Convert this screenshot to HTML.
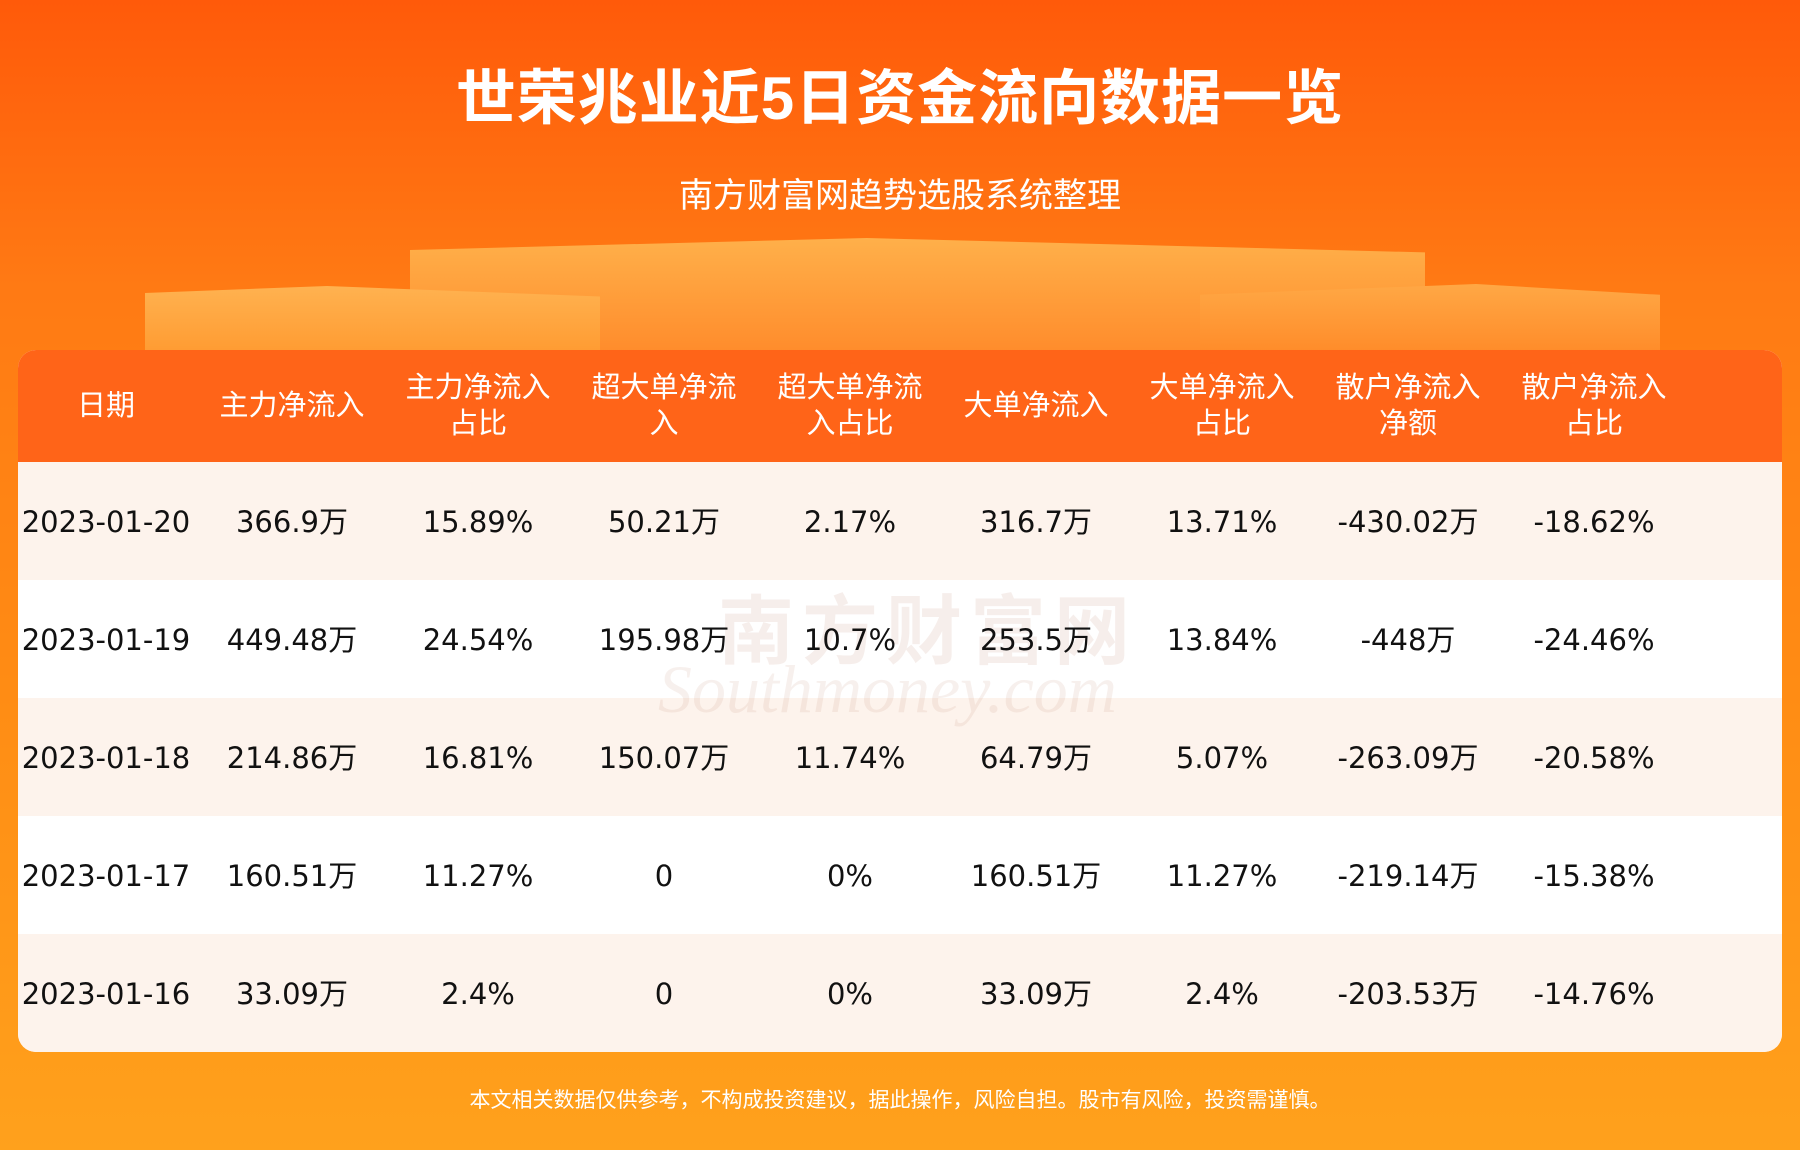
<!DOCTYPE html>
<html><head><meta charset="utf-8"><style>
body{margin:0;width:1800px;height:1150px;overflow:hidden;font-family:"Liberation Sans","Noto Sans CJK SC",sans-serif;}
#bg{position:absolute;left:0;top:0;width:1800px;height:1150px;background:linear-gradient(180deg,#ff5a0a 0%,#ff7a14 25%,#ff8c14 60%,#ffa11c 100%);}
.blk{position:absolute;}
#title{position:absolute;top:50px;width:1800px;text-align:center;color:#fff;font-size:60px;font-weight:bold;letter-spacing:1px;}
#sub{position:absolute;top:168px;width:1800px;text-align:center;color:#fff;font-size:34px;}
#tbl{position:absolute;left:18px;top:350px;width:1764px;height:702px;border-radius:18px;overflow:hidden;background:#fff;}
#hd{position:absolute;left:0;top:0;width:100%;height:112px;background:#ff6418;}
.row{position:absolute;left:0;width:100%;height:118px;}
.c{position:absolute;width:186px;text-align:center;transform:translateX(-93px);}
.h{color:#fff;font-size:29px;line-height:36px;}
.d{font-family:"DejaVu Sans","Noto Sans CJK SC",sans-serif;font-size:29px;line-height:36px;height:36px;color:#111;top:42px;}
.d span{display:inline-block;vertical-align:top;line-height:36px;height:36px;}
#ft{position:absolute;top:1084px;width:1800px;text-align:center;color:#fff;font-size:21px;}
#wm{position:absolute;left:700px;top:220px;font-size:76px;color:rgba(200,150,130,0.16);font-weight:bold;letter-spacing:8px;}
#wm2{position:absolute;left:640px;top:300px;font-size:68px;color:rgba(200,150,130,0.14);font-style:italic;font-family:"Liberation Serif",serif;}
</style></head><body>
<div id="bg"></div>
<div class="blk" style="left:410px;top:238px;width:1015px;height:120px;background:linear-gradient(180deg,#ffb04a,#ff8a2a);clip-path:polygon(0 10%,45% 0,100% 12%,100% 100%,0 100%);"></div>
<div class="blk" style="left:145px;top:286px;width:455px;height:70px;background:linear-gradient(180deg,#ffb250,#ff9a30);clip-path:polygon(0 10%,40% 0,100% 15%,100% 100%,0 100%);"></div>
<div class="blk" style="left:1200px;top:284px;width:460px;height:72px;background:linear-gradient(180deg,#ffa845,#ff8a28);clip-path:polygon(0 15%,60% 0,100% 15%,100% 100%,0 100%);"></div>
<div id="title">世荣兆业近5日资金流向数据一览</div>
<div id="sub">南方财富网趋势选股系统整理</div>
<div id="tbl">
<div id="hd"></div>
<div class="row" style="top:112px;background:#fdf3ec"></div>
<div class="row" style="top:230px;background:#fff"></div>
<div class="row" style="top:348px;background:#fdf3ec"></div>
<div class="row" style="top:466px;background:#fff"></div>
<div class="row" style="top:584px;background:#fdf3ec"></div>
<div id="wm">南方财富网</div>
<div id="wm2">Southmoney.com</div>
<div class="c h" style="left:88px;top:38px">日期</div>
<div class="c h" style="left:274px;top:38px">主力净流入</div>
<div class="c h" style="left:460px;top:20px">主力净流入<br>占比</div>
<div class="c h" style="left:646px;top:20px">超大单净流<br>入</div>
<div class="c h" style="left:832px;top:20px">超大单净流<br>入占比</div>
<div class="c h" style="left:1018px;top:38px">大单净流入</div>
<div class="c h" style="left:1204px;top:20px">大单净流入<br>占比</div>
<div class="c h" style="left:1390px;top:20px">散户净流入<br>净额</div>
<div class="c h" style="left:1576px;top:20px">散户净流入<br>占比</div>
<div class="row" style="top:112px">
<div class="c d" style="left:88px">2023-01-20</div><div class="c d" style="left:274px">366.9<span>万</span></div><div class="c d" style="left:460px">15.89%</div><div class="c d" style="left:646px">50.21<span>万</span></div><div class="c d" style="left:832px">2.17%</div><div class="c d" style="left:1018px">316.7<span>万</span></div><div class="c d" style="left:1204px">13.71%</div><div class="c d" style="left:1390px">-430.02<span>万</span></div><div class="c d" style="left:1576px">-18.62%</div></div>
<div class="row" style="top:230px">
<div class="c d" style="left:88px">2023-01-19</div><div class="c d" style="left:274px">449.48<span>万</span></div><div class="c d" style="left:460px">24.54%</div><div class="c d" style="left:646px">195.98<span>万</span></div><div class="c d" style="left:832px">10.7%</div><div class="c d" style="left:1018px">253.5<span>万</span></div><div class="c d" style="left:1204px">13.84%</div><div class="c d" style="left:1390px">-448<span>万</span></div><div class="c d" style="left:1576px">-24.46%</div></div>
<div class="row" style="top:348px">
<div class="c d" style="left:88px">2023-01-18</div><div class="c d" style="left:274px">214.86<span>万</span></div><div class="c d" style="left:460px">16.81%</div><div class="c d" style="left:646px">150.07<span>万</span></div><div class="c d" style="left:832px">11.74%</div><div class="c d" style="left:1018px">64.79<span>万</span></div><div class="c d" style="left:1204px">5.07%</div><div class="c d" style="left:1390px">-263.09<span>万</span></div><div class="c d" style="left:1576px">-20.58%</div></div>
<div class="row" style="top:466px">
<div class="c d" style="left:88px">2023-01-17</div><div class="c d" style="left:274px">160.51<span>万</span></div><div class="c d" style="left:460px">11.27%</div><div class="c d" style="left:646px">0</div><div class="c d" style="left:832px">0%</div><div class="c d" style="left:1018px">160.51<span>万</span></div><div class="c d" style="left:1204px">11.27%</div><div class="c d" style="left:1390px">-219.14<span>万</span></div><div class="c d" style="left:1576px">-15.38%</div></div>
<div class="row" style="top:584px">
<div class="c d" style="left:88px">2023-01-16</div><div class="c d" style="left:274px">33.09<span>万</span></div><div class="c d" style="left:460px">2.4%</div><div class="c d" style="left:646px">0</div><div class="c d" style="left:832px">0%</div><div class="c d" style="left:1018px">33.09<span>万</span></div><div class="c d" style="left:1204px">2.4%</div><div class="c d" style="left:1390px">-203.53<span>万</span></div><div class="c d" style="left:1576px">-14.76%</div></div>
</div>
<div id="ft">本文相关数据仅供参考，不构成投资建议，据此操作，风险自担。股市有风险，投资需谨慎。</div>
</body></html>
